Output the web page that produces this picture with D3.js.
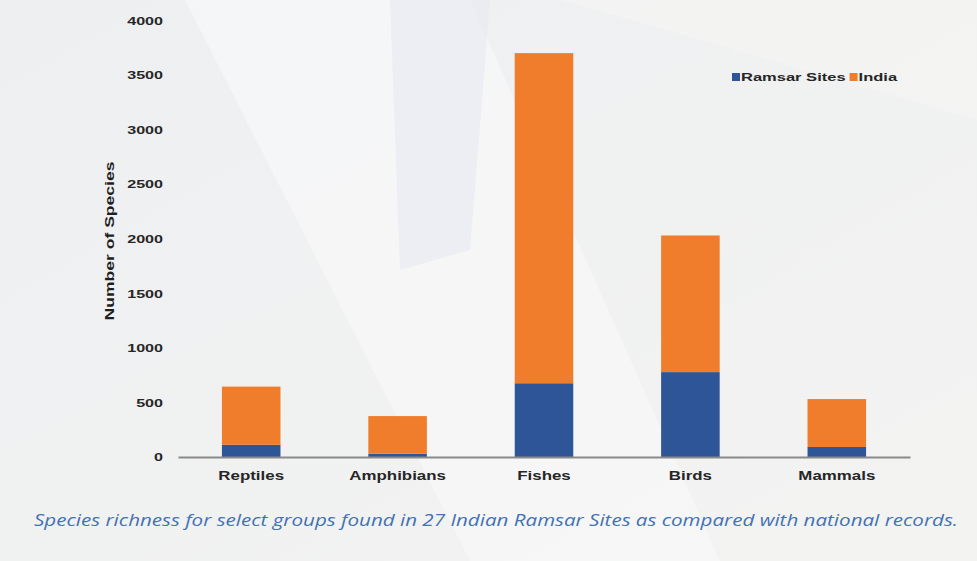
<!DOCTYPE html>
<html><head><meta charset="utf-8">
<script src="https://cdn.jsdelivr.net/npm/d3@7/dist/d3.min.js"></script>
<style>html,body{margin:0;padding:0;background:#f1f1f1;}svg{display:block;}</style>
</head><body>
<svg id="chart" width="977" height="561"></svg>
<script>
const categories = ["Reptiles", "Amphibians", "Fishes", "Birds", "Mammals"];
const ramsarSites = [112, 30, 676, 778, 92];
const india = [533, 345, 3025, 1252, 439];
const seriesNames = ["Ramsar Sites", "India"];
const seriesColors = ["#2e5597", "#f07d2c"];
const yTicks = [0, 500, 1000, 1500, 2000, 2500, 3000, 3500, 4000];
const caption = "Species richness for select groups found in 27 Indian Ramsar Sites as compared with national records.";

const FONT = "Liberation Sans, Arial, sans-serif";
function stretch(sel, f) {
  sel.each(function(){ const L = this.getComputedTextLength(); d3.select(this).attr("textLength", L*f).attr("lengthAdjust","spacingAndGlyphs"); });
}

const svg = d3.select("#chart");
const defs = svg.append("defs");
const g1 = defs.append("linearGradient").attr("id","bg").attr("x1","0").attr("y1","0").attr("x2","1").attr("y2","1");
g1.append("stop").attr("offset","0").attr("stop-color","#eeeff1");
g1.append("stop").attr("offset","1").attr("stop-color","#f3f3f2");
svg.append("rect").attr("width",977).attr("height",561).attr("fill","url(#bg)");
svg.append("polygon").attr("points","185,0 470,0 720,561 470,561").attr("fill","#f8f8f9").attr("opacity",0.7);
svg.append("polygon").attr("points","390,0 490,0 470,250 400,270").attr("fill","#e6eaf0").attr("opacity",0.6);
svg.append("polygon").attr("points","560,0 977,0 977,120 700,40").attr("fill","#f5f5f4").attr("opacity",0.5);

const x = d3.scaleBand().domain(categories).range([178, 910]).paddingInner(0.6).paddingOuter(0.3);
const y = d3.scaleLinear().domain([0, 4000]).range([457, 20.5]);

const rows = categories.map((c,i)=>({cat:c, "Ramsar Sites":ramsarSites[i], "India":india[i]}));
const stacked = d3.stack().keys(seriesNames)(rows);

svg.append("g").selectAll("g").data(stacked).join("g")
  .attr("fill",(d,i)=>seriesColors[i])
  .selectAll("rect").data(d=>d).join("rect")
  .attr("x",d=>x(d.data.cat)).attr("width",x.bandwidth())
  .attr("y",d=>y(d[1])).attr("height",d=>y(d[0])-y(d[1]));

// y axis
const ya = svg.append("g").attr("transform","translate(178,0)")
  .call(d3.axisLeft(y).tickValues(yTicks).tickSize(0).tickPadding(15).tickFormat(d3.format("d")));
ya.select(".domain").remove();
ya.selectAll("text").attr("font-family",FONT).attr("font-weight","bold")
  .attr("font-size",11.5).attr("fill","#262626");
stretch(ya.selectAll("text"), 1.4);

// x axis
const xa = svg.append("g").attr("transform","translate(0,457)")
  .call(d3.axisBottom(x).tickSize(0).tickPadding(14));
xa.select(".domain").attr("stroke","#8a8a8a").attr("stroke-width",2);
xa.selectAll("text").attr("font-family",FONT).attr("font-weight","bold")
  .attr("font-size",12.5).attr("fill","#262626");
stretch(xa.selectAll("text"), 1.35);

// y title
const yt = svg.append("text").attr("transform","translate(114,241) rotate(-90)").attr("text-anchor","middle")
  .attr("font-family",FONT).attr("font-weight","bold").attr("font-size",13.5)
  .attr("fill","#1e1e1e").text("Number of Species");
stretch(yt, 1.3);

// legend
const leg = svg.append("g").attr("transform","translate(732,77)");
let lx = 0;
seriesNames.forEach((n,i)=>{
  leg.append("rect").attr("x",lx).attr("y",-4).attr("width",8).attr("height",8).attr("fill",seriesColors[i]);
  const t = leg.append("text").attr("x",lx+9).attr("y",0).attr("dy","0.35em")
    .attr("font-family",FONT).attr("font-weight","bold").attr("font-size",11)
    .attr("fill","#262626").text(n);
  const L = t.node().getComputedTextLength()*1.5;
  t.attr("textLength",L).attr("lengthAdjust","spacingAndGlyphs");
  lx += 9 + L + 4;
});

// caption
svg.append("text").attr("x",34).attr("y",526)
  .attr("font-family","Open Sans, sans-serif").attr("font-style","italic").attr("font-size",17)
  .attr("fill","#4372b3").attr("textLength",924).attr("lengthAdjust","spacingAndGlyphs").text(caption);
</script>
</body></html>
